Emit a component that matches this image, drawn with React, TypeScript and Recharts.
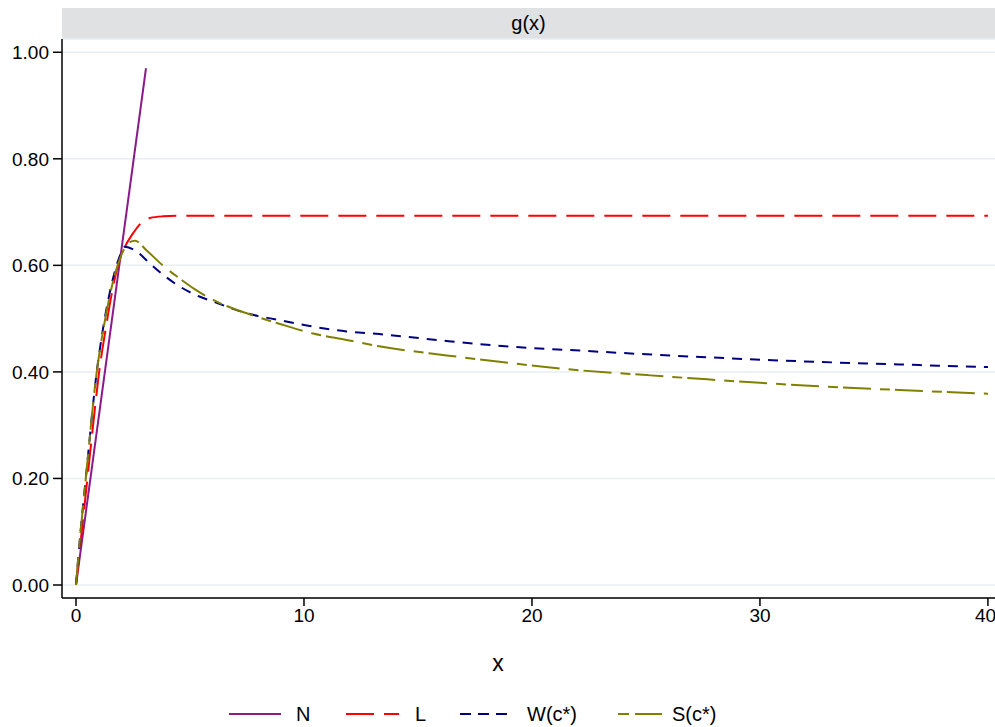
import React from "react";
import { LineChart, Line, XAxis, YAxis, CartesianGrid } from "recharts";

const FONT = "'Liberation Sans', Arial, Helvetica, sans-serif";

// x positions and g(x) values
const nX = [0, 3.07];
const nY = [0, 0.97];

const lX = [0, 0.25, 0.5, 0.75, 1.0, 1.3, 1.56, 1.78, 2.15, 2.5, 2.8, 3.25, 3.8, 4.5, 40];
const lY = [0, 0.1, 0.2, 0.3, 0.395, 0.48, 0.545, 0.59, 0.635, 0.66, 0.677, 0.689, 0.692, 0.693, 0.693];

const wX = [0, 0.2, 0.43, 0.91, 1.2, 1.64, 1.9, 2.15, 2.66, 3.25, 3.83, 4.56, 5.44, 6.02, 7.49, 8.95, 10.4, 11.87, 13.3, 16.26, 19.18, 22.1, 25.03, 27.4, 31.75, 36.1, 40];
const wY = [0, 0.1, 0.2, 0.4, 0.485, 0.578, 0.615, 0.635, 0.626, 0.603, 0.582, 0.56, 0.541, 0.532, 0.51, 0.497, 0.485, 0.476, 0.471, 0.458, 0.447, 0.44, 0.433, 0.428, 0.42, 0.414, 0.409];

const sX = [0, 0.2, 0.43, 0.91, 1.2, 1.64, 2.08, 2.3, 2.59, 3.1, 3.8, 4.56, 5.22, 6.02, 7.49, 8.95, 10.4, 11.87, 13.3, 16.26, 19.18, 22.1, 25.03, 27.7, 31.75, 36.1, 40];
const sY = [0, 0.1, 0.2, 0.4, 0.48, 0.572, 0.628, 0.642, 0.646, 0.628, 0.6, 0.575, 0.555, 0.535, 0.51, 0.49, 0.472, 0.46, 0.448, 0.431, 0.416, 0.403, 0.394, 0.386, 0.375, 0.366, 0.359];

const xTicks = [0, 10, 20, 30, 40];
const yTicks = [0, 0.2, 0.4, 0.6, 0.8, 1.0];

const toPoints = (xs: number[], ys: number[]) => xs.map((x, i) => ({ x, y: ys[i] }));

const series = [
  { name: "N", data: toPoints(nX, nY), color: "#8b1a8b", dash: undefined, legendDash: undefined, type: "linear" as const },
  { name: "L", data: toPoints(lX, lY), color: "#ff0000", dash: "28 10", legendDash: "28 10", type: "monotone" as const },
  { name: "W(c*)", data: toPoints(wX, wY), color: "#000080", dash: "10 8", legendDash: "11 7", type: "monotone" as const },
  { name: "S(c*)", data: toPoints(sX, sY), color: "#808000", dash: "28 9 10 5", legendDash: "11 6 28 9", type: "monotone" as const },
];

// legend sample positions (line start, line end, text start)
const legendPos = [
  [229, 281, 296],
  [346, 399, 415],
  [460, 507, 527],
  [618, 662, 672],
];

export default function App() {
  return (
    <div style={{ position: "absolute", left: 0, top: 0, width: 995, height: 727, fontFamily: FONT, background: "#fff" }}>
      <div
        style={{
          position: "absolute",
          left: 62,
          top: 8,
          width: 933,
          height: 31,
          background: "#dfe1e3",
          textAlign: "center",
          lineHeight: "31px",
          fontSize: 20,
          color: "#000",
        }}
      >
        g(x)
      </div>
      <LineChart width={995} height={727} margin={{ top: 39, right: 0, bottom: 99, left: 0 }}>
        <CartesianGrid vertical={false} stroke="#e8eef2" strokeWidth={1.5} />
        <XAxis
          type="number"
          dataKey="x"
          domain={[-0.614, 40.31]}
          allowDataOverflow
          ticks={xTicks}
          height={30}
          tickSize={8}
          tickMargin={3}
          stroke="#000"
          strokeWidth={1.5}
          tick={{ fill: "#000", fontSize: 19, fontFamily: FONT }}
        />
        <YAxis
          type="number"
          dataKey="y"
          domain={[-0.0244, 1.0249]}
          allowDataOverflow
          ticks={yTicks}
          width={62}
          tickSize={9}
          tickMargin={4}
          stroke="#000"
          strokeWidth={1.5}
          tickFormatter={(v: number) => v.toFixed(2)}
          tick={{ fill: "#000", fontSize: 19, fontFamily: FONT }}
        />
        {series.map((s) => (
          <Line
            key={s.name}
            data={s.data}
            dataKey="y"
            type={s.type}
            stroke={s.color}
            strokeWidth={2}
            strokeDasharray={s.dash}
            dot={false}
            activeDot={false}
            isAnimationActive={false}
          />
        ))}
      </LineChart>
      <div style={{ position: "absolute", left: 498, top: 650, transform: "translateX(-50%)", fontSize: 23, color: "#000" }}>
        x
      </div>
      <svg width={995} height={40} style={{ position: "absolute", left: 0, top: 692 }}>
        {series.map((s, i) => (
          <g key={s.name}>
            <line
              x1={legendPos[i][0]}
              x2={legendPos[i][1]}
              y1={22}
              y2={22}
              stroke={s.color}
              strokeWidth={2}
              strokeDasharray={s.legendDash}
            />
            <text x={legendPos[i][2]} y={29} fontSize={20} fontFamily={FONT} fill="#000">
              {s.name}
            </text>
          </g>
        ))}
      </svg>
    </div>
  );
}
